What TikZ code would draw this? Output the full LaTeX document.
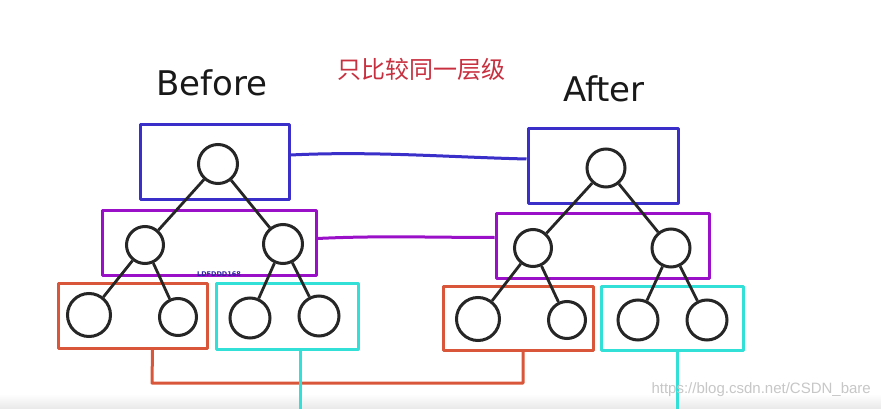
\documentclass[tikz,border=0pt]{standalone}
\usepackage{fontspec}
\setmainfont{DejaVu Sans}
\newfontfamily\cjk{Noto Sans CJK SC}
\newfontfamily\wmfont{Liberation Sans}
\definecolor{cblue}{HTML}{3A2FC8}
\definecolor{cpurple}{HTML}{9A10C8}
\definecolor{corange}{HTML}{D9563A}
\definecolor{ccyan}{HTML}{33E0D8}
\definecolor{cred}{HTML}{C83040}
\begin{document}
\begin{tikzpicture}[x=1pt,y=-1pt,
  lvlbox/.style={draw, rectangle, line width=3pt, inner sep=0pt, line join=round},
  tnode/.style={draw=black!85, circle, line width=3pt, inner sep=0pt},
  tedge/.style={draw=black!85, line width=2.8pt},
  link/.style={line width=3pt, line join=round},
  title/.style={font=\fontsize{34}{38}\selectfont, text=black!90}]
\useasboundingbox (0,0) rectangle (881,409);
\fill[white] (0,0) rectangle (881,409);
\shade[top color=white, bottom color=black!9] (0,394) rectangle (881,409);

% titles
\node[title] (tb) at (212,83) {Before};
\node[title] (ta) at (604,89) {After};
\node[font=\cjk\fontsize{24}{26}\selectfont, text=cred] (tz) at (421,69) {只比较同一层级};

% left boxes
\node[lvlbox, draw=cblue, minimum width=149pt, minimum height=74pt] (lb) at (214.5,162) {};
\node[lvlbox, draw=cpurple, minimum width=214pt, minimum height=65pt] (lp) at (209,242.5) {};
\node[lvlbox, draw=corange, minimum width=149pt, minimum height=65pt] (lo) at (132.5,315.5) {};
\node[lvlbox, draw=ccyan, minimum width=142pt, minimum height=66pt] (lc) at (287,316) {};
% right boxes
\node[lvlbox, draw=cblue, minimum width=150pt, minimum height=74pt] (rb) at (603,166) {};
\node[lvlbox, draw=cpurple, minimum width=213pt, minimum height=65pt] (rp) at (602.5,245.5) {};
\node[lvlbox, draw=corange, minimum width=150pt, minimum height=64pt] (ro) at (518,318) {};
\node[lvlbox, draw=ccyan, minimum width=142pt, minimum height=64pt] (rc) at (672,318) {};

% left tree
\node[tnode, minimum size=39pt] (l0) at (218,164) {};
\node[tnode, minimum size=37pt] (l1) at (145,245) {};
\node[tnode, minimum size=39pt] (l2) at (283,244) {};
\node[tnode, minimum size=43pt] (l3) at (89,315) {};
\node[tnode, minimum size=37pt] (l4) at (178,317) {};
\node[tnode, minimum size=40pt] (l5) at (250,318) {};
\node[tnode, minimum size=40pt] (l6) at (319,316) {};
\draw[tedge] (l0) -- (l1);
\draw[tedge] (l0) -- (l2);
\draw[tedge] (l1) -- (l3);
\draw[tedge] (l1) -- (l4);
\draw[tedge] (l2) -- (l5);
\draw[tedge] (l2) -- (l6);

% right tree
\node[tnode, minimum size=38pt] (r0) at (606,168) {};
\node[tnode, minimum size=37pt] (r1) at (533,248) {};
\node[tnode, minimum size=38pt] (r2) at (671,248) {};
\node[tnode, minimum size=43pt] (r3) at (478,319) {};
\node[tnode, minimum size=37pt] (r4) at (567,320) {};
\node[tnode, minimum size=40pt] (r5) at (638,320) {};
\node[tnode, minimum size=40pt] (r6) at (707,320) {};
\draw[tedge] (r0) -- (r1);
\draw[tedge] (r0) -- (r2);
\draw[tedge] (r1) -- (r3);
\draw[tedge] (r1) -- (r4);
\draw[tedge] (r2) -- (r5);
\draw[tedge] (r2) -- (r6);

% level links
\draw[link, cblue] ([yshift=7pt]lb.east) .. controls +(80,-4) and +(-80,-2) .. ([yshift=7pt]rb.west);
\draw[link, cpurple] ([yshift=4pt]lp.east) .. controls +(60,-3) and +(-60,0) .. ([yshift=8pt]rp.west);
\coordinate (ob) at (152,383);
\draw[link, corange] ([xshift=20pt]lo.south) -- (ob) -- (523,383) -- ([xshift=5pt]ro.south);
\coordinate (lcend) at (300,409);
\coordinate (rcend) at (677,409);
\draw[link, ccyan] ([xshift=13pt]lc.south) -- (lcend);
\draw[link, ccyan] ([xshift=5pt]rc.south) -- (rcend);

% watermarks
\node[font=\bfseries\fontsize{6.5}{7}\selectfont, text=cblue!80!black, inner sep=0pt] (wm1) at (219,274) {LDFDDD168};
\node[font=\wmfont\fontsize{15}{16}\selectfont, text=black!22, anchor=east, inner sep=0pt] (wm2) at (871,390) {https://blog.csdn.net/CSDN\_bare};
\end{tikzpicture}
\end{document}
